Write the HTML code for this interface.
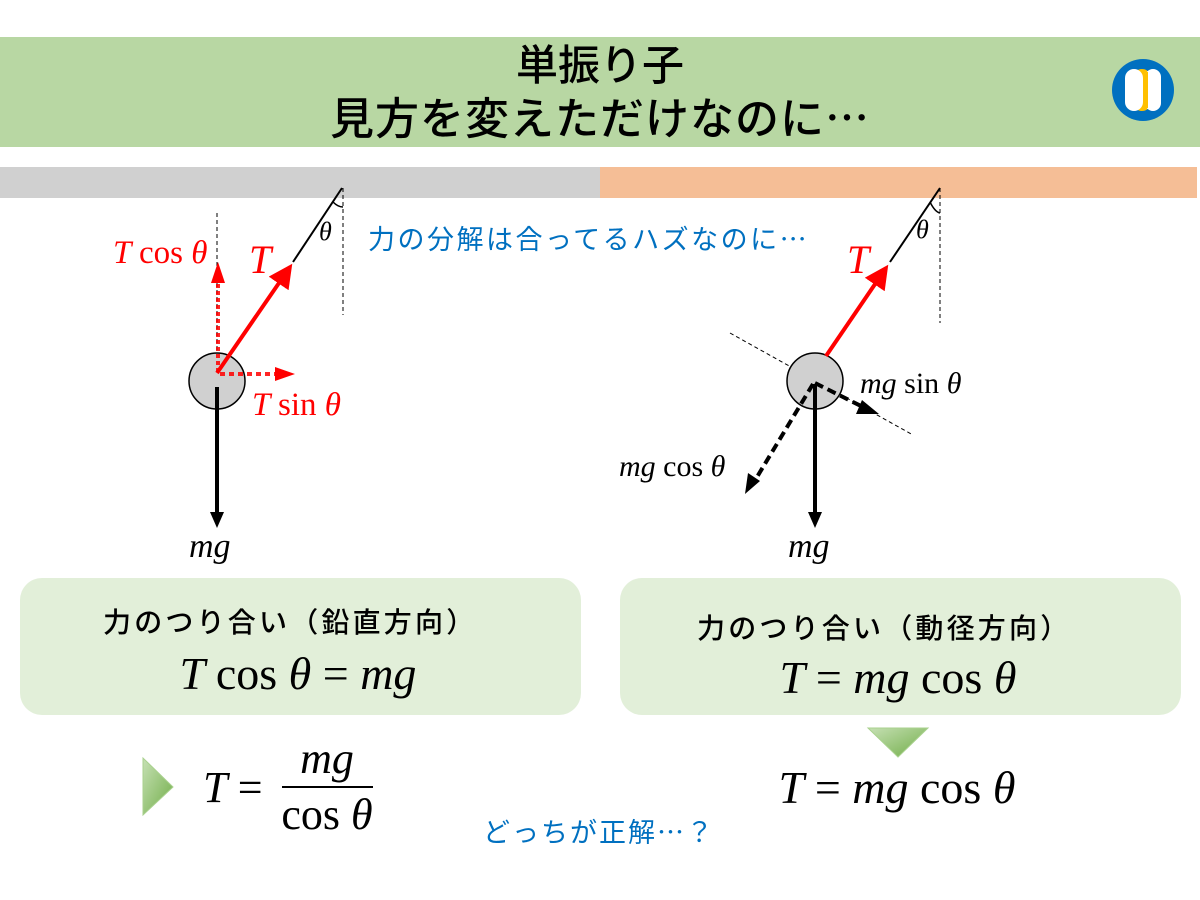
<!DOCTYPE html>
<html><head><meta charset="utf-8"><style>
body{margin:0;width:1200px;height:900px;background:#fff;overflow:hidden}
svg{display:block}
.jp{font-family:"Noto Sans CJK JP","Liberation Sans",sans-serif}
.m{font-family:"Liberation Serif","DejaVu Serif",serif;font-style:italic}
.r{font-family:"Liberation Serif","DejaVu Serif",serif}
</style></head><body>
<svg width="1200" height="900" viewBox="0 0 1200 900">
<defs>
<marker id="ar" markerWidth="6" markerHeight="6" refX="5" refY="3" orient="auto" markerUnits="strokeWidth"><path d="M0,0L6,3L0,6z" fill="#f00"/></marker>
<linearGradient id="g" x1="0" y1="0" x2="1" y2="1"><stop offset="0" stop-color="#c6e0b4"/><stop offset="1" stop-color="#70ad47"/></linearGradient>
</defs>
<rect x="0" y="37" width="1200" height="110" fill="#b8d7a3"/>
<text x="600" y="80" text-anchor="middle" class="jp" font-size="42" font-weight="500" fill="#000">単振り子</text>
<text x="600" y="134" text-anchor="middle" class="jp" font-size="44" font-weight="500" letter-spacing="1" fill="#000">見方を変えただけなのに…</text>
<circle cx="1143" cy="90" r="31" fill="#0070c0"/>
<rect x="1133" y="69" width="18" height="42" rx="9" fill="#ffc000"/>
<rect x="1125" y="69" width="18" height="42" rx="9" fill="#fff"/>
<rect x="1145" y="69" width="16" height="42" rx="8" fill="#fff"/>
<rect x="1143" y="72" width="5" height="36" fill="#ffc000"/>
<rect x="0" y="167" width="600" height="31" fill="#d0d0d0"/>
<rect x="600" y="167" width="597" height="31" fill="#f5be96"/>
<!-- left diagram -->
<line x1="217" y1="213" x2="217" y2="380" stroke="#000" stroke-dasharray="4,3" stroke-width="1"/>
<line x1="343" y1="188" x2="343" y2="315" stroke="#000" stroke-dasharray="4,3" stroke-width="1"/>
<line x1="342" y1="188" x2="293" y2="262" stroke="#000" stroke-width="2"/>
<path d="M333,202 Q338,207 343,207" fill="none" stroke="#000" stroke-width="1.5"/>
<text x="319" y="240" class="m" font-size="26">θ</text>
<circle cx="217" cy="381" r="28" fill="#d0d0d0" stroke="#000" stroke-width="1.5"/>
<line x1="218" y1="372" x2="218" y2="280" stroke="#f00" stroke-width="4" stroke-dasharray="4,3" opacity="0.85"/>
<path d="M211,283 L218,262 L225,283z" fill="#f00"/>
<line x1="220" y1="374" x2="278" y2="374" stroke="#f00" stroke-width="4" stroke-dasharray="5,4" opacity="0.85"/>
<path d="M275,367 L295,374 L275,381z" fill="#f00"/>
<line x1="217" y1="373" x2="290" y2="267" stroke="#f00" stroke-width="4" marker-end="url(#ar)"/>
<line x1="217" y1="387" x2="217" y2="515" stroke="#000" stroke-width="4"/>
<path d="M210,512 L217,528 L224,512z" fill="#000"/>
<text x="113" y="263" class="m" font-size="33" fill="#f00">T <tspan class="r" font-style="normal">cos</tspan> θ</text>
<text x="249" y="273" class="m" font-size="40" fill="#f00">T</text>
<text x="252" y="415" class="m" font-size="33" fill="#f00">T <tspan class="r" font-style="normal">sin</tspan> θ</text>
<text x="189" y="557" class="m" font-size="34">mg</text>
<text x="368" y="249" class="jp" font-size="27" letter-spacing="2.5" fill="#0070c0">力の分解は合ってるハズなのに…</text>
<!-- right diagram -->
<line x1="940" y1="188" x2="940" y2="323" stroke="#000" stroke-dasharray="4,3" stroke-width="1"/>
<line x1="940" y1="188" x2="890" y2="262" stroke="#000" stroke-width="2"/>
<path d="M930,202 Q935,212 940,213" fill="none" stroke="#000" stroke-width="1.5"/>
<text x="916" y="238" class="m" font-size="26">θ</text>
<text x="847" y="273" class="m" font-size="40" fill="#f00">T</text>
<line x1="730" y1="333" x2="913" y2="435" stroke="#000" stroke-dasharray="4,3" stroke-width="1"/>
<circle cx="815" cy="381" r="28" fill="#d0d0d0" stroke="#000" stroke-width="1.5"/>
<line x1="826" y1="356" x2="886" y2="268" stroke="#f00" stroke-width="4" marker-end="url(#ar)"/>
<line x1="815" y1="384" x2="815" y2="515" stroke="#000" stroke-width="4"/>
<path d="M808,512 L815,528 L822,512z" fill="#000"/>
<line x1="815" y1="383" x2="865" y2="408" stroke="#000" stroke-width="4" stroke-dasharray="9,5"/>
<path d="M862,400 L879,414 L856,414z" fill="#000"/>
<line x1="813" y1="384" x2="754" y2="482" stroke="#000" stroke-width="4" stroke-dasharray="9,5"/>
<path d="M745,494 L748,473 L760,481z" fill="#000"/>
<text x="860" y="393" class="m" font-size="30">mg <tspan class="r" font-style="normal">sin</tspan> θ</text>
<text x="619" y="476" class="m" font-size="30">mg <tspan class="r" font-style="normal">cos</tspan> θ</text>
<text x="788" y="557" class="m" font-size="34">mg</text>
<!-- boxes -->
<rect x="20" y="578" width="561" height="137" rx="22" fill="#e2efd9"/>
<rect x="620" y="578" width="561" height="137" rx="22" fill="#e2efd9"/>
<text x="103" y="632" class="jp" font-size="28" letter-spacing="3.2" font-weight="500">力のつり合い（鉛直方向）</text>
<text x="298" y="689" text-anchor="middle" class="m" font-size="46">T <tspan class="r" font-style="normal">cos</tspan> θ <tspan class="r" font-style="normal">=</tspan> mg</text>
<text x="697" y="638" class="jp" font-size="28" letter-spacing="3.2" font-weight="500">力のつり合い（動径方向）</text>
<text x="898" y="693" text-anchor="middle" class="m" font-size="46">T <tspan class="r" font-style="normal">=</tspan> mg <tspan class="r" font-style="normal">cos</tspan> θ</text>
<path d="M143,758 L143,815 L173,787z" fill="url(#g)" stroke="#a9d18e"/>
<path d="M868,728 L928,728 L898,757z" fill="url(#g)" stroke="#a9d18e"/>
<text x="203" y="802" class="m" font-size="44">T <tspan class="r" font-style="normal">=</tspan></text>
<text x="327" y="773" text-anchor="middle" class="m" font-size="44">mg</text>
<line x1="282" y1="787" x2="373" y2="787" stroke="#000" stroke-width="2"/>
<text x="327" y="829" text-anchor="middle" class="m" font-size="44"><tspan class="r" font-style="normal">cos</tspan> θ</text>
<text x="897" y="803" text-anchor="middle" class="m" font-size="46">T <tspan class="r" font-style="normal">=</tspan> mg <tspan class="r" font-style="normal">cos</tspan> θ</text>
<text x="483" y="842" class="jp" font-size="27" letter-spacing="2" fill="#0070c0">どっちが正解…？</text>
</svg>
</body></html>
